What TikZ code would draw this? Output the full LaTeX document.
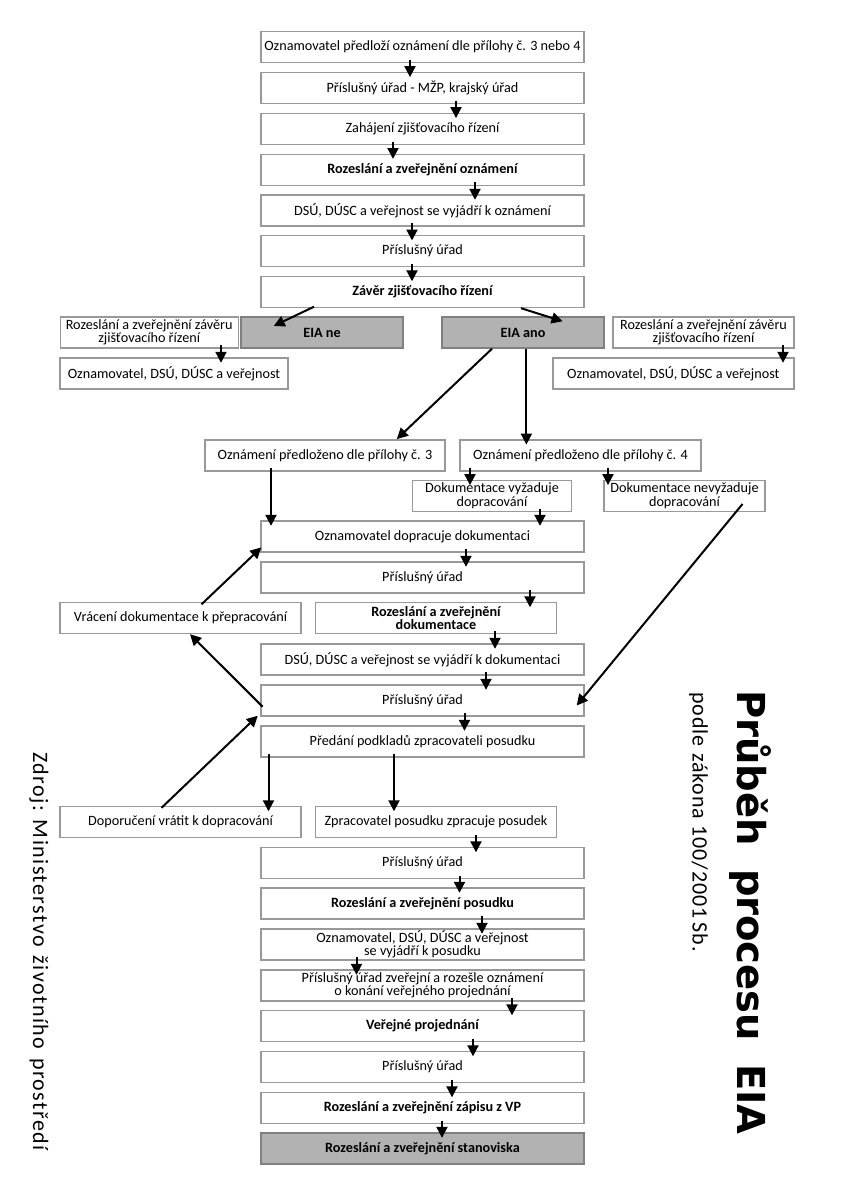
\documentclass[tikz,border=0pt]{standalone}
\usepackage{fontspec}
\setmainfont{Carlito}
\newfontfamily\titlefont{DejaVu Sans}
\usetikzlibrary{arrows.meta}

\tikzset{
  box/.style={draw=black!40,line width=1.4pt,fill=white,minimum width=323pt,minimum height=31pt,
              inner sep=1pt,align=center,font=\fontsize{14.2}{12}\selectfont},
  greybox/.style={box,fill=black!30,draw=black!50},
  arr/.style={line width=2pt,-{Triangle[length=11pt,width=11pt]},shorten <=-3.5pt,shorten >=-5.5pt},
  slant/.style={line width=2pt,-{Triangle[length=11pt,width=11pt]}}
}

\begin{document}
\begin{tikzpicture}[x=1pt,y=-1pt]
  \useasboundingbox (0,0) rectangle (842,1191);

  % hlavni sloupec - zjistovaci rizeni
  \node[box] (b1) at (422.5,47) {Oznamovatel předloží oznámení dle přílohy č. 3 nebo 4};
  \node[box] (b2) at (422.5,87.8) {Příslušný úřad - MŽP, krajský úřad};
  \node[box] (b3) at (422.5,128.8) {Zahájení zjišťovacího řízení};
  \node[box] (b4) at (422.5,169.7) {\bfseries Rozeslání a zveřejnění oznámení};
  \node[box] (b5) at (422.5,210.5) {DSÚ, DÚSC a veřejnost se vyjádří k oznámení};
  \node[box] (b6) at (422.5,251.2) {Příslušný úřad};
  \node[box] (b7) at (422.5,292) {\bfseries Závěr zjišťovacího řízení};

  \node[greybox,minimum width=162pt] (ne) at (322,332.5) {\bfseries EIA ne};
  \node[greybox,minimum width=162pt] (ano) at (523,332.5) {\bfseries EIA ano};
  \node[box,minimum width=178pt] (zl) at (149.2,332.5) {Rozeslání a zveřejnění závěru\\zjišťovacího řízení};
  \node[box,minimum width=181pt] (zr) at (703.5,332.5) {Rozeslání a zveřejnění závěru\\zjišťovacího řízení};
  \node[box,minimum width=228pt] (ozl) at (174,373.5) {Oznamovatel, DSÚ, DÚSC a veřejnost};
  \node[box,minimum width=241pt] (ozr) at (673.3,373.5) {Oznamovatel, DSÚ, DÚSC a veřejnost};

  % dokumentace
  \node[box,minimum width=240pt] (p3) at (325,455.3) {Oznámení předloženo dle přílohy č. 3};
  \node[box,minimum width=241pt] (p4) at (580.5,455.3) {Oznámení předloženo dle přílohy č. 4};
  \node[box,minimum width=159pt] (dv) at (492,495.8) {Dokumentace vyžaduje\\dopracování};
  \node[box,minimum width=161pt] (dn) at (684.5,495.8) {Dokumentace nevyžaduje\\dopracování};
  \node[box] (c1) at (422.5,536.5) {Oznamovatel dopracuje dokumentaci};
  \node[box] (c2) at (422.5,577.5) {Příslušný úřad};
  \node[box,minimum width=241pt] (vr) at (180.5,618) {Vrácení dokumentace k přepracování};
  \node[box,minimum width=241pt] (c3) at (436,618) {\bfseries Rozeslání a zveřejnění\\\bfseries dokumentace};
  \node[box] (c4) at (422.5,659.5) {DSÚ, DÚSC a veřejnost se vyjádří k dokumentaci};
  \node[box] (c5) at (422.5,700.5) {Příslušný úřad};
  \node[box] (c6) at (422.5,741.5) {Předání podkladů zpracovateli posudku};

  % posudek
  \node[box,minimum width=241pt] (dp) at (180.5,822) {Doporučení vrátit k dopracování};
  \node[box,minimum width=241pt] (zp) at (436,822) {Zpracovatel posudku zpracuje posudek};
  \node[box] (d1) at (422.5,863) {Příslušný úřad};
  \node[box] (d2) at (422.5,903.5) {\bfseries Rozeslání a zveřejnění posudku};
  \node[box] (d3) at (422.5,944.5) {Oznamovatel, DSÚ, DÚSC a veřejnost\\se vyjádří k posudku};
  \node[box] (d4) at (422.5,985.5) {Příslušný úřad zveřejní a rozešle oznámení\\o konání veřejného projednání};
  \node[box] (d5) at (422.5,1026) {\bfseries Veřejné projednání};
  \node[box] (d6) at (422.5,1067) {Příslušný úřad};
  \node[box] (d7) at (422.5,1108) {\bfseries Rozeslání a zveřejnění zápisu z VP};
  \node[greybox] (d8) at (422.5,1148.5) {\bfseries Rozeslání a zveřejnění stanoviska};

  % svisle sipky
  \draw[arr] ([xshift=-12.5pt]b1.south) -- ([xshift=-12.5pt]b2.north);
  \draw[arr] ([xshift=33.5pt]b2.south) -- ([xshift=33.5pt]b3.north);
  \draw[arr] ([xshift=-29.5pt]b3.south) -- ([xshift=-29.5pt]b4.north);
  \draw[arr] ([xshift=52.5pt]b4.south) -- ([xshift=52.5pt]b5.north);
  \draw[arr] ([xshift=-10.5pt]b5.south) -- ([xshift=-10.5pt]b6.north);
  \draw[arr] ([xshift=-10.5pt]b6.south) -- ([xshift=-10.5pt]b7.north);
  \draw[arr] ([xshift=71.8pt]zl.south) -- ([xshift=47pt]ozl.north);
  \draw[arr] ([xshift=79.5pt]zr.south) -- ([xshift=109.7pt]ozr.north);
  \draw[arr,shorten <=0pt] ([xshift=3.4pt]ano.south) -- ([xshift=-54.1pt]p4.north);
  \draw[arr] ([xshift=-54pt]p3.south) -- ([xshift=-151.5pt]c1.north);
  \draw[arr] ([xshift=-110.5pt]p4.south) -- ([xshift=-22pt]dv.north);
  \draw[arr] ([xshift=27.5pt]p4.south) -- ([xshift=-76.5pt]dn.north);
  \draw[arr] ([xshift=48pt]dv.south) -- ([xshift=117.5pt]c1.north);
  \draw[arr] ([xshift=43.5pt]c1.south) -- ([xshift=43.5pt]c2.north);
  \draw[arr] ([xshift=107.5pt]c2.south) -- ([xshift=94pt]c3.north);
  \draw[arr] ([xshift=59pt]c3.south) -- ([xshift=72.5pt]c4.north);
  \draw[arr] ([xshift=63.5pt]c4.south) -- ([xshift=63.5pt]c5.north);
  \draw[arr] ([xshift=42pt]c5.south) -- ([xshift=42pt]c6.north);
  \draw[arr] ([xshift=-154pt]c6.south) -- ([xshift=88pt]dp.north);
  \draw[arr] ([xshift=-28.5pt]c6.south) -- ([xshift=-42pt]zp.north);
  \draw[arr] ([xshift=40pt]zp.south) -- ([xshift=53.5pt]d1.north);
  \draw[arr] ([xshift=37pt]d1.south) -- ([xshift=37pt]d2.north);
  \draw[arr] ([xshift=59.5pt]d2.south) -- ([xshift=59.5pt]d3.north);
  \draw[arr] ([xshift=-66pt]d3.south) -- ([xshift=-66pt]d4.north);
  \draw[arr] ([xshift=89.5pt]d4.south) -- ([xshift=89.5pt]d5.north);
  \draw[arr] ([xshift=50.5pt]d5.south) -- ([xshift=50.5pt]d6.north);
  \draw[arr] ([xshift=29.5pt]d6.south) -- ([xshift=29.5pt]d7.north);
  \draw[arr] ([xshift=19.5pt]d7.south) -- ([xshift=19.5pt]d8.north);

  % sikme sipky
  \draw[slant] ([xshift=-108.5pt,yshift=1.5pt]b7.south) -- ([xshift=-48.3pt,yshift=-9.7pt]ne.north);
  \draw[slant] ([xshift=98.5pt]b7.south) -- ([xshift=39.6pt,yshift=-5pt]ano.north);
  \draw[slant] ([xshift=-31pt]ano.south) -- ([xshift=71.8pt]p3.north);
  \draw[slant] ([xshift=58pt,yshift=8pt]dn.south) -- ([xshift=-8pt,yshift=-5pt]c5.east);
  \draw[slant] ([xshift=21pt,yshift=-2.5pt]vr.north) -- ([xshift=1pt,yshift=5.3pt]c1.south west);
  \draw[slant] ([xshift=2.3pt,yshift=-6.2pt]c5.west) -- ([xshift=9.5pt]vr.south);
  \draw[slant] ([xshift=-19pt,yshift=-2pt]dp.north) -- ([xshift=-2.5pt,yshift=1pt]c5.south west);

  % nadpis a zdroj
  \node[rotate=-90,anchor=base west,inner sep=0pt,font=\titlefont\bfseries\fontsize{38.5}{40}\selectfont] (title) at (737,690)
    {Průběh\hspace{0.6em}procesu\hspace{0.6em}EIA};
  \node[rotate=-90,anchor=base west,inner sep=0pt,font=\fontsize{22}{24}\selectfont\addfontfeature{LetterSpace=4}] (law) at (692.5,692)
    {podle\hspace{0.3em}zákona\hspace{0.3em}100/2001\hspace{0.2em}Sb.};
  \node[rotate=-90,anchor=base west,inner sep=0pt,font=\fontsize{22}{24}\selectfont\addfontfeature{LetterSpace=6.5}] (src) at (33,752)
    {Zdroj:\hspace{0.4em}Ministerstvo\hspace{0.4em}životního\hspace{0.4em}prostředí};
\end{tikzpicture}
\end{document}
